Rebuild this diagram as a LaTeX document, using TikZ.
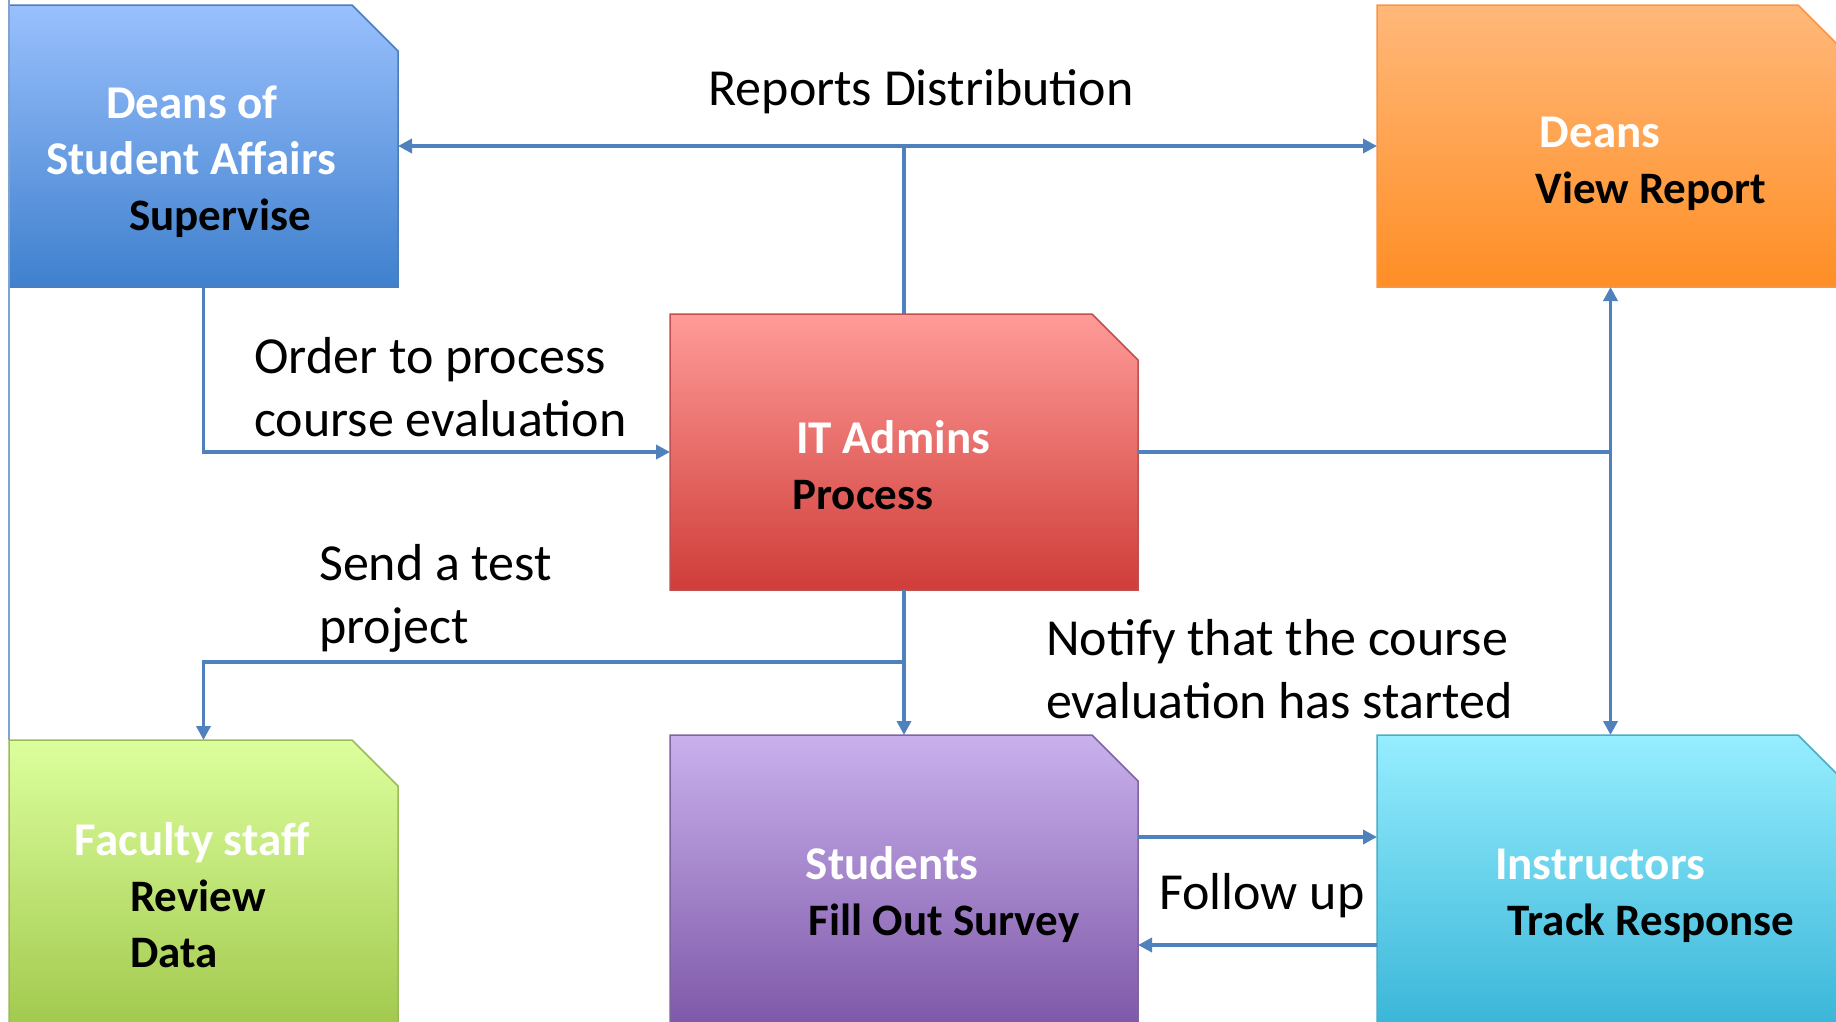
\documentclass[tikz,border=0pt]{standalone}
\usepackage{fontspec}
\setmainfont{Carlito}
\usetikzlibrary{positioning,arrows.meta,calc}
\definecolor{linkblue}{HTML}{4F81BD}
\definecolor{sa_top}{HTML}{99C0FD}
\definecolor{sa_bottom}{HTML}{3F80CD}
\definecolor{sa_line}{HTML}{4A7DBA}
\definecolor{deans_top}{HTML}{FFB87A}
\definecolor{deans_bottom}{HTML}{FF8E25}
\definecolor{deans_line}{HTML}{F7964A}
\definecolor{it_top}{HTML}{FF9B98}
\definecolor{it_bottom}{HTML}{CF3D39}
\definecolor{it_line}{HTML}{C0504D}
\definecolor{fac_top}{HTML}{DCFF9D}
\definecolor{fac_bottom}{HTML}{A2C94E}
\definecolor{fac_line}{HTML}{9BBB59}
\definecolor{stu_top}{HTML}{C9B1ED}
\definecolor{stu_bottom}{HTML}{7E58A8}
\definecolor{stu_line}{HTML}{8064A2}
\definecolor{ins_top}{HTML}{96EEFF}
\definecolor{ins_bottom}{HTML}{3AB6D8}
\definecolor{ins_line}{HTML}{4BACC6}
\tikzset{
	>={Triangle[length=14pt,width=14pt]}
}

\begin{document}
\begin{tikzpicture}[
x = 1pt, y = -1pt,
box/.style = {
	inner sep = 0pt,
	outer sep = 0pt
},
narrow box/.style = {
	box,
	minimum width = 389pt
},
wide box/.style = {
	box,
	minimum width = 467pt
},
box line/.style = {
	line width = 1.5pt
},
title/.style = {
	anchor = base,
	inner sep = 0pt,
	text = white,
	font = \bfseries\fontsize{47}{56}\selectfont
},
task/.style = {
	anchor = base,
	inner sep = 0pt,
	font = \bfseries\fontsize{45}{56}\selectfont
},
flow/.style = {
	anchor = base west,
	inner sep = 0pt,
	font = \fontsize{52}{63}\selectfont
},
link/.style = {
	draw = linkblue,
	line width = 3.5pt
}
]

\useasboundingbox (0,0) rectangle (1836,1021);

% boxes
\node (deans_sa) [narrow box, minimum height = 282pt] at (203.5,146) {};
\node (deans) [wide box, minimum height = 282pt] at (1610.5,146) {};
\node (it_admins) [box, minimum width = 468pt, minimum height = 276pt] at (904,452) {};
\node (faculty) [narrow box, minimum height = 286pt] at (203.5,883) {};
\node (students) [box, minimum width = 468pt, minimum height = 290pt] at (904,880) {};
\node (instructors) [wide box, minimum height = 290pt] at (1610.5,880) {};

% cut corner outlines
\foreach \boxname/\col in {deans_sa/sa, deans/deans, it_admins/it, faculty/fac, students/stu, instructors/ins}
	\path [box line, draw = \col_line, top color = \col_top, bottom color = \col_bottom]
		(\boxname.south west) |- ([xshift = -46pt]\boxname.north east)
		-- ([yshift = -46pt]\boxname.north east) -- (\boxname.south east) -- cycle;

\coordinate (left_top) at (9,0);
\draw [draw = sa_line!70, line width = 1.5pt] (left_top) -- (faculty.north west);

% box texts
\node (deans_sa_title_1) [title] at (192,118) {Deans of};
\node (deans_sa_title_2) [title] at (191,174) {Student Affairs};
\node (deans_sa_task) [task] at (220,230) {Supervise};

\node (deans_title) [title] at (1600,147) {Deans};
\node (deans_task) [task] at (1651,203) {View Report};

\node (it_title) [title] at (893,453) {IT Admins};
\node (it_task) [task] at (863,509) {Process};

\node (faculty_title) [title] at (192,855) {Faculty staff};
\node (faculty_task_1) [task] at (198,911) {Review};
\node (faculty_task_2) [task] at (174,967) {Data};

\node (students_title) [title] at (892,879) {Students};
\node (students_task) [task] at (944,935) {Fill Out Survey};

\node (instructors_title) [title] at (1600,879) {Instructors};
\node (instructors_task) [task] at (1651,935) {Track Response};

% connectors
\coordinate (report_split) at (it_admins.north |- deans.west);
\draw [link] (it_admins.north) -- (report_split);
\draw [link, ->] (report_split) -- (deans_sa.east);
\draw [link, ->] (report_split) -- (deans.west);

\draw [link, ->] (deans_sa.south) |- (it_admins.west);

\coordinate (test_split) at (904,662);
\draw [link, ->] (it_admins.south) -- (students.north);
\draw [link, ->] (test_split) -| (faculty.north);

\coordinate (notify_split) at (deans.south |- it_admins.east);
\draw [link] (it_admins.east) -- (notify_split);
\draw [link, ->] (notify_split) -- (deans.south);
\draw [link, ->] (notify_split) -- (instructors.north);

\draw [link, ->] ([yshift = 43pt]students.east) -- ([yshift = 43pt]instructors.west);
\draw [link, ->] ([yshift = -65pt]instructors.west) -- ([yshift = -65pt]students.east);

% connector labels
\node (report_label) [flow, anchor = base] at (921,105) {Reports Distribution};
\node (order_label_1) [flow] at (254,373) {Order to process};
\node (order_label_2) [flow] at (254,436) {course evaluation};
\node (test_label_1) [flow] at (319,580) {Send a test};
\node (test_label_2) [flow] at (319,643) {project};
\node (notify_label_1) [flow] at (1046,655) {Notify that the course};
\node (notify_label_2) [flow] at (1046,718) {evaluation has started};
\node (follow_label) [flow, anchor = base] at (1262,909) {Follow up};

\end{tikzpicture}
\end{document}
